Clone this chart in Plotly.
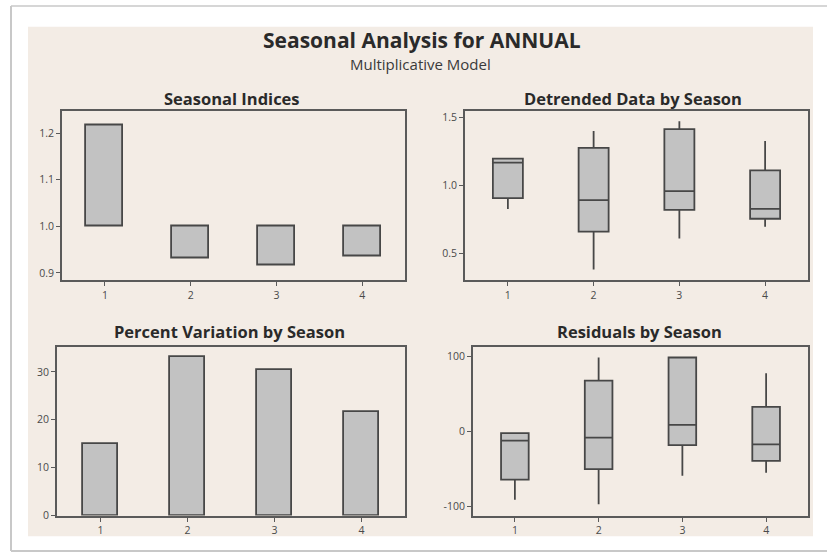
import plotly.graph_objects as go
from plotly.subplots import make_subplots

# Seasons
seasons = [1, 2, 3, 4]

# Seasonal indices (multiplicative, centred on 1.0)
seasonal_index = [1.216, 0.932, 0.916, 0.936]

# Detrended data by season: box summaries
detr_low = [0.826, 0.38, 0.609, 0.696]
detr_q1 = [0.906, 0.66, 0.819, 0.754]
detr_med = [1.167, 0.891, 0.957, 0.826]
detr_q3 = [1.196, 1.275, 1.413, 1.109]
detr_high = [1.20, 1.399, 1.47, 1.326]

# Percent variation by season
pct_variation = [15.0, 33.1, 30.3, 21.6]

# Residuals by season: box summaries
res_low = [-91, -97, -59, -55]
res_q1 = [-64, -50, -18, -39]
res_med = [-12, -8, 9, -17]
res_q3 = [-2, 68, 99, 33]
res_high = [-2, 99, 99, 78]

W, H = 827, 560
FONT = "Open Sans"
BEIGE = "#F3ECE5"
FILL = "#C2C2C2"
EDGE = "#474747"
AXIS = "#5A5A5A"


def px_x(p):
    return p / W


def px_y(p):
    return 1 - p / H


fig = make_subplots(rows=2, cols=2)

# Seasonal indices: bars drawn from the 1.0 reference
fig.add_trace(go.Bar(
    x=seasons, y=[v - 1 for v in seasonal_index], base=1.0, width=0.43,
    marker=dict(color=FILL, line=dict(color=EDGE, width=1.8)),
    showlegend=False), row=1, col=1)

# Detrended data boxes
fig.add_trace(go.Box(
    x=seasons, q1=detr_q1, median=detr_med, q3=detr_q3,
    lowerfence=detr_low, upperfence=detr_high, width=0.35,
    whiskerwidth=0, boxpoints=False, fillcolor=FILL,
    line=dict(color=EDGE, width=1.8), showlegend=False), row=1, col=2)

# Percent variation bars
fig.add_trace(go.Bar(
    x=seasons, y=pct_variation, width=0.40,
    marker=dict(color=FILL, line=dict(color=EDGE, width=1.8)),
    showlegend=False), row=2, col=1)

# Residual boxes
fig.add_trace(go.Box(
    x=seasons, q1=res_q1, median=res_med, q3=res_q3,
    lowerfence=res_low, upperfence=res_high, width=0.33,
    whiskerwidth=0, boxpoints=False, fillcolor=FILL,
    line=dict(color=EDGE, width=1.8), showlegend=False), row=2, col=2)

# Panel placement (pixels -> paper)
domains = {
    (1, 1): ((62, 405), (112, 283)),
    (1, 2): ((465, 808), (112, 283)),
    (2, 1): ((57, 405), (351, 522)),
    (2, 2): ((473, 808), (351, 522)),
}
yranges = {
    (1, 1): dict(range=[0.885, 1.2465], tickvals=[0.9, 1.0, 1.1, 1.2], ticktext=["0.9", "1.0", "1.1", "1.2"]),
    (1, 2): dict(range=[0.304, 1.543], tickvals=[0.5, 1.0, 1.5], ticktext=["0.5", "1.0", "1.5"]),
    (2, 1): dict(range=[0, 35.2], tickvals=[0, 10, 20, 30], ticktext=["0", "10", "20", "30"]),
    (2, 2): dict(range=[-112, 113], tickvals=[-100, 0, 100], ticktext=["-100", "0", "100"]),
}
tickfont = dict(family=FONT, size=10.5, color="#4A4A4A")
for (r, c), ((x0, x1), (y0, y1)) in domains.items():
    fig.update_xaxes(
        domain=[px_x(x0), px_x(x1)], range=[0.5, 4.5],
        tickvals=seasons, ticktext=[str(s) for s in seasons],
        ticks="outside", ticklen=4, tickcolor=AXIS, tickwidth=1,
        showline=True, linecolor=AXIS, linewidth=2, mirror=True,
        showgrid=False, zeroline=False, tickfont=tickfont, fixedrange=True,
        row=r, col=c)
    fig.update_yaxes(
        domain=[px_y(y1), px_y(y0)], tickmode="array",
        ticks="outside", ticklen=4, tickcolor=AXIS, tickwidth=1,
        showline=True, linecolor=AXIS, linewidth=2, mirror=True,
        showgrid=False, zeroline=False, tickfont=tickfont, fixedrange=True,
        row=r, col=c, **yranges[(r, c)])

shapes = [
    # beige chart area
    dict(type="rect", xref="paper", yref="paper", layer="below",
         x0=px_x(28), x1=px_x(813), y0=px_y(543), y1=px_y(26),
         fillcolor=BEIGE, line=dict(width=0)),
    # outer frame lines
    dict(type="line", xref="paper", yref="paper",
         x0=px_x(11), x1=px_x(827), y0=px_y(5), y1=px_y(5),
         line=dict(color="#D6D6D6", width=2)),
    dict(type="line", xref="paper", yref="paper",
         x0=px_x(11), x1=px_x(11), y0=px_y(5), y1=px_y(558),
         line=dict(color="#C8C8C8", width=2)),
    dict(type="line", xref="paper", yref="paper",
         x0=px_x(11), x1=px_x(827), y0=px_y(558), y1=px_y(558),
         line=dict(color="#C8C8C8", width=2)),
]

def label(text, cx, cy, size, bold=True, color="#2A2A2A"):
    return dict(text=f"<b>{text}</b>" if bold else text, x=px_x(cx), y=px_y(cy),
                xref="paper", yref="paper", showarrow=False,
                xanchor="center", yanchor="middle",
                font=dict(family=FONT, size=size, color=color))

annotations = [
    label("Seasonal Analysis for ANNUAL", 422, 40, 21),
    label("Multiplicative Model", 421, 64, 15, bold=False, color="#3A3A3A"),
    label("Seasonal Indices", 232, 99, 16.5),
    label("Detrended Data by Season", 633, 99, 16.5),
    label("Percent Variation by Season", 230, 335, 16.5),
    label("Residuals by Season", 639, 335, 16.5),
]

fig.update_layout(
    width=W, height=H, margin=dict(l=0, r=0, t=0, b=0),
    paper_bgcolor="white", plot_bgcolor="white",
    shapes=shapes, annotations=annotations, showlegend=False,
    bargap=0, boxgap=0, font=dict(family=FONT),
)

fig.write_html("out.html", config={"displayModeBar": False})
